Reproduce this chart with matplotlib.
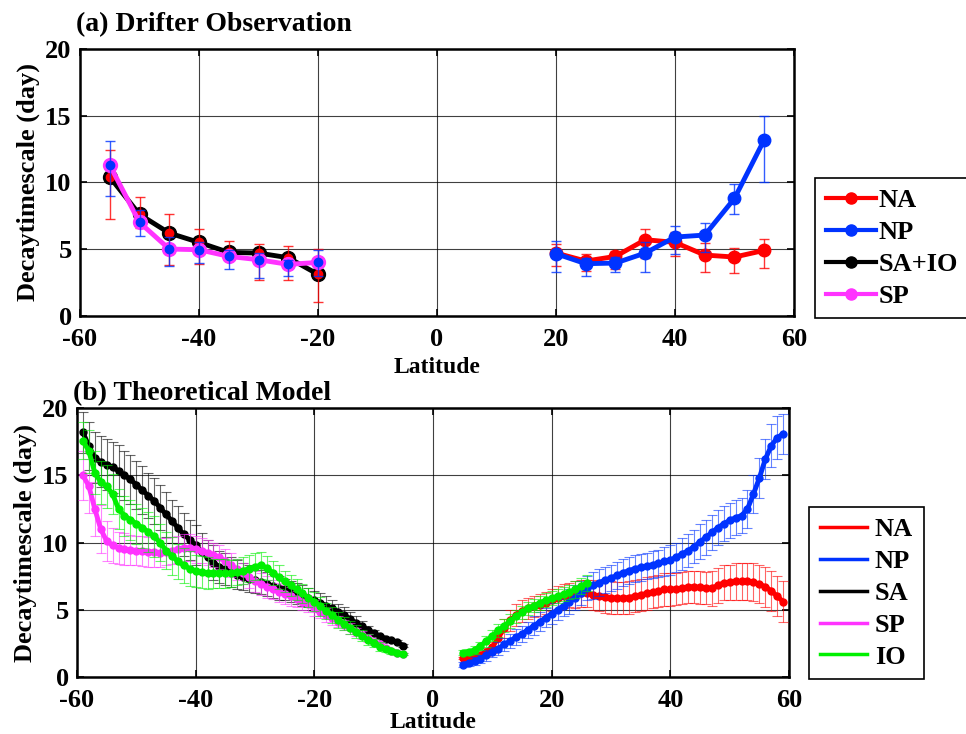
import numpy as np
import matplotlib
matplotlib.use("Agg")
import matplotlib.pyplot as plt
from matplotlib.lines import Line2D

plt.rcParams["font.family"] = ["Liberation Serif", "DejaVu Serif"]
plt.rcParams["font.weight"] = "bold"
plt.rcParams["axes.labelweight"] = "bold"
plt.rcParams["axes.titleweight"] = "bold"
plt.rcParams["axes.unicode_minus"] = False
plt.rcParams["font.size"] = 19

RED = "#ff0000"
BLUE = "#0033ff"
MAG = "#ff33ff"
GREEN = "#00f000"
BLACK = "#000000"

# ----------------- (a) drifter observation -----------------
lat_a_s = [-55, -50, -45, -40, -35, -30, -25, -20]
lat_a_n = [20, 25, 30, 35, 40, 45, 50, 55]

na_obs = [4.7, 4.1, 4.45, 5.7, 5.5, 4.55, 4.4, 4.9]
na_lo = [3.7, 3.35, 3.5, 4.3, 4.45, 3.25, 3.2, 3.55]
na_hi = [5.4, 4.6, 4.85, 6.5, 6.3, 5.45, 5.1, 5.75]

np_obs = [4.65, 3.9, 3.95, 4.7, 5.9, 6.05, 8.8, 13.2]
np_lo = [3.3, 3.0, 3.3, 3.3, 4.65, 4.75, 7.6, 10.0]
np_hi = [5.6, 4.3, 4.4, 5.5, 6.7, 6.95, 9.9, 15.0]

saio_obs = [10.4, 7.6, 6.2, 5.5, 4.75, 4.7, 4.35, 3.1]
saio_lo = [7.25, 6.55, 3.8, 3.9, 4.35, 2.7, 2.7, 1.0]
saio_hi = [12.4, 8.9, 7.6, 6.5, 5.6, 5.4, 5.2, 5.0]

sp_obs = [11.3, 7.0, 5.0, 4.95, 4.45, 4.2, 3.85, 4.0]
sp_lo = [9.0, 5.95, 3.75, 3.95, 3.5, 2.85, 2.95, 3.0]
sp_hi = [13.1, 7.9, 5.9, 5.5, 4.95, 4.7, 4.2, 4.95]

# ----------------- (b) theoretical model -----------------
lat_b_s = np.arange(-59, -4)   # -59 ... -5
lat_b_n = np.arange(5, 60)     # 5 ... 59
lat_io_n = np.arange(5, 27)    # 5 ... 26

sa_mod = [18.2, 17.2, 16.3, 16.0, 15.8, 15.6, 15.35, 15.0, 14.7, 14.3,
          13.9, 13.5, 13.1, 12.6, 12.1, 11.6, 11.1, 10.6, 10.2, 9.8,
          9.3, 8.9, 8.5, 8.2, 8.0, 7.8, 7.6, 7.45, 7.3, 7.2,
          7.05, 6.9, 6.75, 6.6, 6.5, 6.35, 6.2, 6.05, 5.9, 5.7,
          5.5, 5.3, 5.1, 4.85, 4.6, 4.3, 4.0, 3.75, 3.5, 3.25,
          3.0, 2.8, 2.7, 2.6, 2.3]
sa_err = [1.5, 1.8, 1.9, 1.9, 1.9, 1.9, 1.9, 1.8, 1.8, 1.8,
          1.8, 1.7, 1.7, 1.7, 1.7, 1.6, 1.6, 1.6, 1.5, 1.5,
          1.4, 1.3, 1.3, 1.2, 1.2, 1.1, 1.1, 1.0, 1.0, 1.0,
          0.9, 0.9, 0.9, 0.9, 0.8, 0.8, 0.8, 0.8, 0.7, 0.7,
          0.7, 0.7, 0.6, 0.6, 0.6, 0.5, 0.5, 0.4, 0.3, 0.2,
          0.1, 0.1, 0.1, 0.1, 0.1]

sp_mod = [15.0, 14.2, 12.5, 11.0, 10.1, 9.8, 9.6, 9.5, 9.45, 9.4,
          9.35, 9.3, 9.3, 9.25, 9.3, 9.4, 9.5, 9.6, 9.6, 9.5,
          9.4, 9.25, 9.1, 8.9, 8.6, 8.3, 8.0, 7.7, 7.4, 7.1,
          6.9, 6.7, 6.5, 6.3, 6.15, 6.0, 5.8, 5.6, 5.4, 5.15,
          4.85, 4.6, 4.35, 4.1, 3.85, 3.6, 3.35, 3.1, 2.85, 2.6,
          2.4, 2.15, 1.95, 1.8, 1.7]
sp_err = [1.8, 2.0, 2.0, 1.8, 1.5, 1.3, 1.2, 1.2, 1.1, 1.1,
          1.1, 1.1, 1.1, 1.1, 1.0, 1.0, 1.0, 1.0, 1.0, 1.0,
          0.9, 0.9, 0.9, 0.9, 0.9, 0.9, 0.8, 0.8, 0.8, 0.8,
          0.8, 0.8, 0.7, 0.7, 0.7, 0.7, 0.6, 0.6, 0.6, 0.6,
          0.5, 0.5, 0.5, 0.4, 0.4, 0.4, 0.3, 0.3, 0.3, 0.2,
          0.2, 0.1, 0.1, 0.1, 0.1]

io_mod_s = [17.6, 16.8, 15.2, 14.5, 14.2, 13.6, 12.5, 12.0, 11.7, 11.4,
            11.1, 10.8, 10.45, 10.0, 9.4, 9.0, 8.6, 8.3, 8.05, 7.9,
            7.8, 7.75, 7.7, 7.7, 7.7, 7.7, 7.8, 7.9, 8.05, 8.2,
            8.3, 8.1, 7.75, 7.4, 7.1, 6.8, 6.5, 6.2, 5.9, 5.6,
            5.25, 4.9, 4.6, 4.25, 3.95, 3.65, 3.35, 3.05, 2.75, 2.5,
            2.25, 2.05, 1.9, 1.75, 1.7]
io_err_s = [1.4, 1.6, 1.6, 1.6, 1.6, 1.5, 1.5, 1.5, 1.5, 1.5,
            1.5, 1.5, 1.5, 1.4, 1.4, 1.4, 1.3, 1.3, 1.3, 1.2,
            1.2, 1.2, 1.1, 1.1, 1.1, 1.0, 1.0, 1.0, 1.0, 1.0,
            1.0, 0.9, 0.9, 0.9, 0.8, 0.8, 0.8, 0.7, 0.7, 0.7,
            0.7, 0.6, 0.6, 0.6, 0.5, 0.5, 0.5, 0.4, 0.4, 0.3,
            0.3, 0.2, 0.2, 0.1, 0.1]

io_mod_n = [1.8, 1.85, 2.0, 2.3, 2.65, 3.05, 3.45, 3.8, 4.15, 4.5, 4.8,
            5.1, 5.3, 5.5, 5.7, 5.85, 6.0, 6.15, 6.3, 6.5, 6.75, 7.0]
io_err_n = [0.2, 0.2, 0.3, 0.3, 0.4, 0.4, 0.5, 0.5, 0.5, 0.5, 0.5,
            0.5, 0.5, 0.5, 0.5, 0.5, 0.5, 0.5, 0.5, 0.6, 0.6, 0.6]

na_mod = [1.4, 1.45, 1.55, 1.65, 1.85, 2.2, 2.9, 3.6, 4.2, 4.6,
          4.9, 5.1, 5.25, 5.35, 5.5, 5.7, 5.85, 6.0, 6.1, 6.15,
          6.2, 6.2, 6.1, 6.0, 5.95, 5.9, 5.85, 5.85, 5.9, 6.0,
          6.1, 6.2, 6.3, 6.4, 6.5, 6.5, 6.55, 6.6, 6.7, 6.7,
          6.65, 6.6, 6.6, 6.8, 7.0, 7.05, 7.1, 7.1, 7.1, 7.05,
          6.9, 6.7, 6.4, 6.0, 5.6]
na_err = [0.1, 0.1, 0.1, 0.2, 0.3, 0.4, 0.6, 0.7, 0.8, 0.8,
          0.8, 0.8, 0.8, 0.8, 0.8, 0.8, 0.9, 0.9, 0.9, 1.0,
          1.0, 1.0, 1.1, 1.1, 1.2, 1.2, 1.2, 1.2, 1.2, 1.2,
          1.2, 1.2, 1.2, 1.2, 1.2, 1.2, 1.2, 1.2, 1.2, 1.2,
          1.2, 1.2, 1.3, 1.3, 1.3, 1.3, 1.4, 1.4, 1.4, 1.4,
          1.4, 1.5, 1.5, 1.5, 1.5]

np_mod = [0.9, 1.0, 1.15, 1.35, 1.6, 1.85, 2.1, 2.4, 2.65, 2.95,
          3.2, 3.5, 3.8, 4.1, 4.4, 4.7, 5.0, 5.3, 5.6, 5.9,
          6.25, 6.6, 6.8, 7.0, 7.2, 7.35, 7.55, 7.75, 7.9, 8.05,
          8.15, 8.25, 8.35, 8.45, 8.6, 8.7, 8.9, 9.15, 9.4, 9.7,
          10.05, 10.4, 10.75, 11.1, 11.4, 11.65, 11.85, 12.0, 12.5, 13.6,
          14.8, 16.2, 17.2, 17.8, 18.1]
np_err = [0.2, 0.2, 0.3, 0.3, 0.4, 0.4, 0.5, 0.5, 0.5, 0.6,
          0.6, 0.6, 0.7, 0.7, 0.7, 0.8, 0.8, 0.8, 0.9, 0.9,
          0.9, 0.9, 1.0, 1.0, 1.0, 1.0, 1.0, 1.0, 1.0, 1.0,
          1.0, 1.0, 1.0, 1.0, 1.1, 1.1, 1.1, 1.2, 1.2, 1.2,
          1.3, 1.3, 1.3, 1.3, 1.3, 1.3, 1.3, 1.3, 1.4, 1.4,
          1.5, 1.5, 1.6, 1.6, 1.5]


def style_axes(ax, xlabelpad):
    ax.set_xlim(-60, 60)
    ax.set_ylim(0, 20)
    ax.set_xticks([-60, -40, -20, 0, 20, 40, 60])
    ax.set_yticks([0, 5, 10, 15, 20])
    ax.grid(True, color="k", lw=0.8, alpha=0.75)
    ax.set_axisbelow(True)
    ax.tick_params(direction="in", top=True, right=True, length=5, width=1.2,
                   labelsize=19)
    ax.tick_params(axis="x", pad=9)
    ax.tick_params(axis="y", pad=6)
    for s in ax.spines.values():
        s.set_linewidth(1.8)
    ax.set_xlabel("Latitude", fontsize=17, labelpad=xlabelpad)
    ax.set_ylabel("Decaytimescale (day)", fontsize=19, labelpad=4)


def yerr(vals, lo, hi):
    v = np.array(vals)
    return [v - np.array(lo), np.array(hi) - v]


fig = plt.figure(figsize=(9.66, 7.34), dpi=100)

# 1) panel (a)
ax1 = fig.add_axes([80 / 966, 1 - 315.7 / 734, 714 / 966, 266.6 / 734])
ebkw = dict(fmt="none", elinewidth=1.0, capsize=3.5, capthick=1.0, alpha=0.8)
ax1.errorbar(lat_a_n, na_obs, yerr=yerr(na_obs, na_lo, na_hi), ecolor=RED, zorder=3, **ebkw)
ax1.plot(lat_a_n, na_obs, "-o", color=RED, lw=3.5, ms=9, zorder=4)
ax1.errorbar(lat_a_n, np_obs, yerr=yerr(np_obs, np_lo, np_hi), ecolor=BLUE, zorder=5, **ebkw)
ax1.plot(lat_a_n, np_obs, "-o", color=BLUE, lw=3.5, ms=9, zorder=6)
ax1.plot(lat_a_s, saio_obs, "-o", color=BLACK, lw=3.5, ms=10, zorder=4)
ax1.errorbar(lat_a_s, saio_obs, yerr=yerr(saio_obs, saio_lo, saio_hi), ecolor=RED, zorder=5, **ebkw)
ax1.plot(lat_a_s, saio_obs, "o", color=RED, ms=6, zorder=5)
ax1.plot(lat_a_s, sp_obs, "-o", color=MAG, lw=3.5, ms=10, zorder=6)
ax1.errorbar(lat_a_s, sp_obs, yerr=yerr(sp_obs, sp_lo, sp_hi), ecolor=BLUE, zorder=7, **ebkw)
ax1.plot(lat_a_s, sp_obs, "o", color=BLUE, ms=6, zorder=7)
style_axes(ax1, 4)
ax1.set_title("(a) Drifter Observation", loc="left", fontsize=20, pad=13, x=-0.005)

handles_a = [Line2D([], [], color=c, lw=3, marker="o", ms=8) for c in [RED, BLUE, BLACK, MAG]]
leg1 = fig.legend(handles_a, ["NA", "NP", "SA+IO", "SP"], loc="upper left",
                  bbox_to_anchor=(815 / 966, 1 - 178 / 734), fancybox=False,
                  edgecolor="k", framealpha=1, fontsize=19, handlelength=1.9,
                  borderpad=0.4, labelspacing=0.32, handletextpad=0.1,
                  borderaxespad=0)
leg1.get_frame().set_linewidth(1.2)

# 2) panel (b)
ax2 = fig.add_axes([77 / 966, 1 - 676.7 / 734, 712 / 966, 268.4 / 734])
series_b = [
    (lat_b_n, na_mod, na_err, RED),
    (lat_b_n, np_mod, np_err, BLUE),
    (lat_b_s, sa_mod, sa_err, BLACK),
    (lat_b_s, sp_mod, sp_err, MAG),
    (lat_b_s, io_mod_s, io_err_s, GREEN),
    (lat_io_n, io_mod_n, io_err_n, GREEN),
]
for i, (x, y, e, c) in enumerate(series_b):
    ax2.errorbar(x, y, yerr=e, fmt="none", ecolor=c, elinewidth=0.8, capsize=3.5,
                 capthick=0.8, alpha=0.6, zorder=3 + 2 * i)
    ax2.plot(x, y, "-o", color=c, lw=3.5, ms=5, zorder=4 + 2 * i)
style_axes(ax2, 0)
ax2.set_title("(b) Theoretical Model", loc="left", fontsize=20, pad=6, x=-0.005)

handles_b = [Line2D([], [], color=c, lw=2.5) for c in [RED, BLUE, BLACK, MAG, GREEN]]
leg2 = fig.legend(handles_b, ["NA", "NP", "SA", "SP", "IO"], loc="upper left",
                  bbox_to_anchor=(809 / 966, 1 - 507 / 734), fancybox=False,
                  edgecolor="k", framealpha=1, fontsize=19, handlelength=1.8,
                  borderpad=0.4, labelspacing=0.32, handletextpad=0.3,
                  borderaxespad=0)
leg2.get_frame().set_linewidth(1.2)

plt.savefig("out.png", dpi=100)
plt.close()
